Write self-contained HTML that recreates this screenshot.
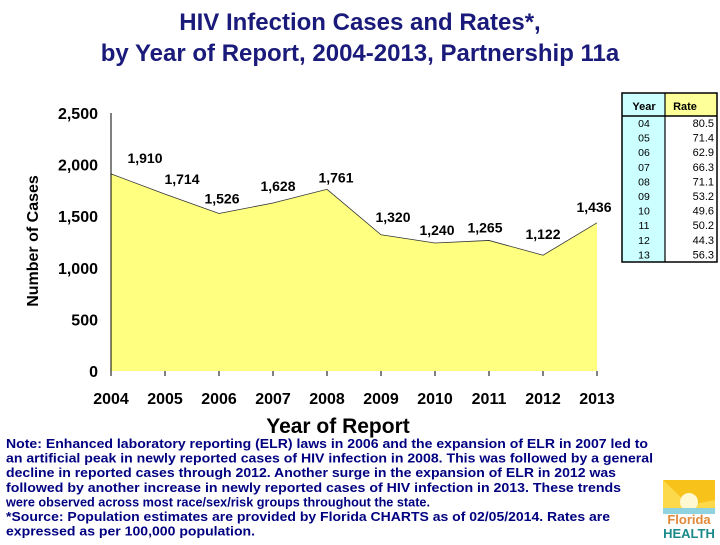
<!DOCTYPE html>
<html><head><meta charset="utf-8"><style>
html,body{margin:0;padding:0;background:#fff;}
svg text{font-family:"Liberation Sans",sans-serif;}
.b{font-weight:bold;}
</style></head><body>
<svg width="720" height="540" viewBox="0 0 720 540">
<g id="title">
<text class="b" x="360" y="30" text-anchor="middle" font-size="24" fill="#1a1a7a">HIV Infection Cases and Rates*,</text>
<text class="b" x="360" y="61" text-anchor="middle" font-size="24" fill="#1a1a7a">by Year of Report, 2004-2013, Partnership 11a</text>
</g>
<g id="plot"></g>
<text class="b" x="338" y="433" text-anchor="middle" font-size="21" fill="#000">Year of Report</text>
<text class="b" transform="translate(38,241) rotate(-90)" text-anchor="middle" font-size="16" fill="#000">Number of Cases</text>
<g id="table"></g>
<g id="note" class="b" font-size="12.5" fill="#000080"></g>
<g>
<rect x="663" y="480" width="52" height="34" fill="#fcd94a"/>
<path d="M663 480 L715 480 L715 500 L689 505 Z" fill="#f7c21a"/>
<circle cx="689" cy="502" r="9" fill="#fff8d0"/>
<rect x="663" y="508" width="52" height="6" fill="#8fd3e0"/>
<text class="b" x="689" y="524" text-anchor="middle" font-size="13" fill="#e0893a">Florida</text>
<text class="b" x="689" y="538" text-anchor="middle" font-size="13" fill="#1a8a8a">HEALTH</text>
</g>
</svg>
<script>
const years = [2004,2005,2006,2007,2008,2009,2010,2011,2012,2013];
const cases = [1910,1714,1526,1628,1761,1320,1240,1265,1122,1436];
const caseLabels = ["1,910","1,714","1,526","1,628","1,761","1,320","1,240","1,265","1,122","1,436"];
const yTicks = [0,500,1000,1500,2000,2500];
const yTickLabels = ["0","500","1,000","1,500","2,000","2,500"];
const tableYears = ["04","05","06","07","08","09","10","11","12","13"];
const rates = ["80.5","71.4","62.9","66.3","71.1","53.2","49.6","50.2","44.3","56.3"];
const labelDx = [34,17,3,5,9,12,2,-4,0,-3];
const labelDy = [-11,-10,-10,-12,-7,-13,-8,-8,-16,-11];

const NS="http://www.w3.org/2000/svg";
function mk(tag,attrs,parent){const e=document.createElementNS(NS,tag);for(const k in attrs)e.setAttribute(k,attrs[k]);parent.appendChild(e);return e;}
const x = y => 111 + (y-2004)*54;
const yS = v => 371 - v*(258/2500);
const plot=document.getElementById('plot');

let d=`M${x(years[0])},${yS(0)}`;
years.forEach((yr,i)=>{d+=` L${x(yr)},${yS(cases[i])}`;});
d+=` L${x(years[years.length-1])},${yS(0)} Z`;
const area=mk('path',{d:d,fill:'#ffff80',stroke:'none'},plot);


const line=mk('polyline',{points:years.map((yr,i)=>x(yr)+','+yS(cases[i])).join(' '),fill:'none',stroke:'#333','stroke-width':0.8},plot);



const ax=mk('line',{x1:111,y1:yS(2500),x2:111,y2:yS(0)+5,stroke:'#000','stroke-width':1},plot);


yTicks.forEach((t,i)=>{
  const tl=mk('text',{class:'b',x:98,y:yS(t)+6,'text-anchor':'end','font-size':16,fill:'#000'},plot);
  tl.textContent=yTickLabels[i];
  
  
});
years.forEach((yr,i)=>{
  const tk=mk('line',{x1:x(yr),y1:yS(0),x2:x(yr),y2:yS(0)+5,stroke:'#000'},plot);
  
  
  const tl=mk('text',{class:'b',x:x(yr),y:404,'text-anchor':'middle','font-size':16,fill:'#000'},plot);
  tl.textContent=yr;
  
  
  const vl=mk('text',{class:'b',x:x(yr)+labelDx[i],y:yS(cases[i])+labelDy[i],'text-anchor':'middle','font-size':14,fill:'#000'},plot);
  vl.textContent=caseLabels[i];
  
  
});

const tb=document.getElementById('table');
mk('rect',{x:622,y:93,width:43,height:169,fill:'#ccffff'},tb);
mk('rect',{x:665,y:93,width:52,height:23,fill:'#ffff99'},tb);
mk('rect',{x:665,y:116,width:52,height:146,fill:'#fff'},tb);
mk('rect',{x:622,y:93,width:95,height:169,fill:'none',stroke:'#000','stroke-width':1.5},tb);
mk('line',{x1:665,y1:93,x2:665,y2:262,stroke:'#000','stroke-width':1.2},tb);
mk('line',{x1:622,y1:116,x2:717,y2:116,stroke:'#000','stroke-width':1.5},tb);
let h=mk('text',{class:'b',x:644,y:110,'text-anchor':'middle','font-size':11,fill:'#000'},tb);h.textContent='Year';
h=mk('text',{class:'b',x:685,y:110,'text-anchor':'middle','font-size':11,fill:'#000'},tb);h.textContent='Rate';
tableYears.forEach((ty,i)=>{
  const yy=127+i*14.6;
  const a=mk('text',{x:644,y:yy,'text-anchor':'middle','font-size':10.5,fill:'#000'},tb);a.textContent=ty;
  
  
  const b=mk('text',{x:714,y:yy,'text-anchor':'end','font-size':11,fill:'#000'},tb);b.textContent=rates[i];
  
  
});

const notes=[
["Note:  Enhanced laboratory reporting (ELR) laws in 2006 and the expansion of ELR in 2007 led to",648],
["an artificial peak in newly reported cases of HIV infection in 2008.  This was followed by a general",653],
["decline in reported cases through 2012.  Another surge in the expansion of ELR in 2012 was",616],
["followed by another increase in newly reported cases of  HIV infection in 2013.  These trends",621],
["were observed across most race/sex/risk groups throughout the state.",430],
["*Source: Population estimates are provided by Florida CHARTS as of 02/05/2014. Rates are",610],
["expressed as per 100,000 population.",255]];
const nt=document.getElementById('note');
notes.forEach((n,i)=>{
  const t=mk('text',{x:6,y:448+i*14.6,textLength:n[1]-6,lengthAdjust:'spacingAndGlyphs'},nt);
  t.textContent=n[0];
});
</script>
</body></html>
